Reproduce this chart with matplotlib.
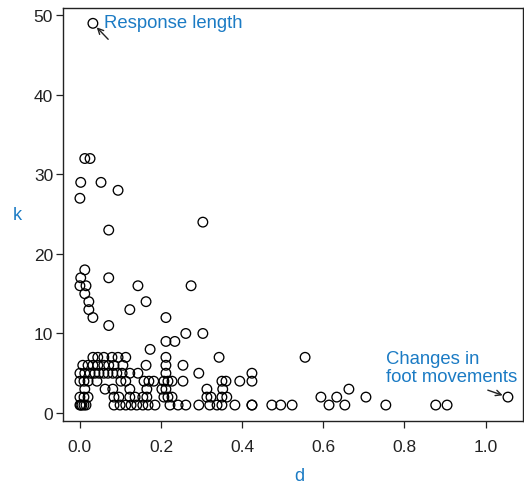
import matplotlib
matplotlib.use("Agg")
import matplotlib.pyplot as plt

plt.rcParams['font.family'] = ['Liberation Sans', 'DejaVu Sans']

# Data: (d, k) pairs grouped by k
k1_d = [0.0, 0.002, 0.005, 0.010, 0.015, 0.084, 0.099, 0.113, 0.126, 0.140, 0.155, 0.168,
        0.185, 0.222, 0.242, 0.261, 0.293, 0.320, 0.338, 0.350, 0.382, 0.424, 0.424,
        0.473, 0.495, 0.523, 0.614, 0.653, 0.754, 0.877, 0.905]
k2_d = [0.0, 0.010, 0.020, 0.084, 0.096, 0.123, 0.136, 0.155, 0.165, 0.207, 0.217, 0.227,
        0.313, 0.323, 0.350, 0.362, 0.594, 0.633, 0.705, 1.055]
k3_d = [0.012, 0.062, 0.081, 0.123, 0.165, 0.202, 0.212, 0.313, 0.352, 0.663]
k4_d = [0.0, 0.010, 0.020, 0.042, 0.101, 0.113, 0.158, 0.170, 0.182, 0.207, 0.217, 0.227,
        0.254, 0.350, 0.360, 0.394, 0.424]
k5_d = [0.0, 0.012, 0.025, 0.037, 0.047, 0.059, 0.069, 0.081, 0.091, 0.104, 0.123, 0.143,
        0.212, 0.293, 0.424]
k6_d = [0.007, 0.020, 0.032, 0.044, 0.059, 0.071, 0.084, 0.106, 0.163, 0.212, 0.254]
k7_d = [0.032, 0.044, 0.059, 0.079, 0.094, 0.113, 0.212, 0.343, 0.555]
k8_d = [0.173]
k9_d = [0.212, 0.234]
k10_d = [0.261, 0.303]
k11_d = [0.071]
k12_d = [0.032, 0.212]
k13_d = [0.022, 0.123]
k14_d = [0.022, 0.163]
k15_d = [0.012]
k16_d = [0.0, 0.015, 0.143, 0.274]
k17_d = [0.002, 0.071]
k18_d = [0.012]
k23_d = [0.071]
k24_d = [0.303]
k27_d = [0.0]
k28_d = [0.094]
k29_d = [0.002, 0.052]
k32_d = [0.012, 0.025]
k49_d = [0.032]

groups = {1: k1_d, 2: k2_d, 3: k3_d, 4: k4_d, 5: k5_d, 6: k6_d, 7: k7_d, 8: k8_d,
          9: k9_d, 10: k10_d, 11: k11_d, 12: k12_d, 13: k13_d, 14: k14_d, 15: k15_d,
          16: k16_d, 17: k17_d, 18: k18_d, 23: k23_d, 24: k24_d, 27: k27_d, 28: k28_d,
          29: k29_d, 32: k32_d, 49: k49_d}

x_ticks = [0.0, 0.2, 0.4, 0.6, 0.8, 1.0]
x_tick_labels = ["0.0", "0.2", "0.4", "0.6", "0.8", "1.0"]
y_ticks = [0, 10, 20, 30, 40, 50]

ds, ks = [], []
for k, dl in groups.items():
    for d in dl:
        ds.append(d)
        ks.append(k)

blue = '#1b7bc4'
fig = plt.figure(figsize=(5.24, 4.85), dpi=100)
ax = fig.add_axes([0.120, 0.130, 0.878, 0.851])
ax.scatter(ds, ks, s=48, facecolors='none', edgecolors='black', linewidths=0.95, zorder=3)

ax.set_xlim(-0.042, 1.092)
ax.set_ylim(-1.0, 50.9)
ax.set_xticks(x_ticks)
ax.set_xticklabels(x_tick_labels)
ax.set_yticks(y_ticks)
ax.tick_params(direction='out', length=5, width=0.9, labelsize=12.5, colors='#222222', pad=2)
ax.tick_params(axis='x', pad=8)
for sp in ax.spines.values():
    sp.set_linewidth(1.0)
    sp.set_color('#222222')

ax.set_xlabel('d', color=blue, fontsize=13, va='center')
ax.xaxis.set_label_coords(0.513, -0.133)
ax.set_ylabel('k', color=blue, fontsize=13, rotation=0, va='center', ha='center')
ax.yaxis.set_label_coords(-0.10, 0.50)

# annotations
ax.text(0.060, 49.1, 'Response length', color=blue, fontsize=13.3, va='center', ha='left')
ax.annotate('', xy=(k49_d[0], 49), xytext=(11, -11.5), textcoords='offset points',
            arrowprops=dict(arrowstyle='->', color='#222222', lw=1.0, shrinkA=0, shrinkB=4))
ax.text(0.754, 5.7, 'Changes in\nfoot movements', color=blue, fontsize=13.3,
        va='center', ha='left', linespacing=1.1)
ax.annotate('', xy=(k2_d[-1], 2), xytext=(-14.5, 5), textcoords='offset points',
            arrowprops=dict(arrowstyle='->', color='#222222', lw=1.0, shrinkA=0, shrinkB=4))

fig.savefig('out.png', dpi=100)
